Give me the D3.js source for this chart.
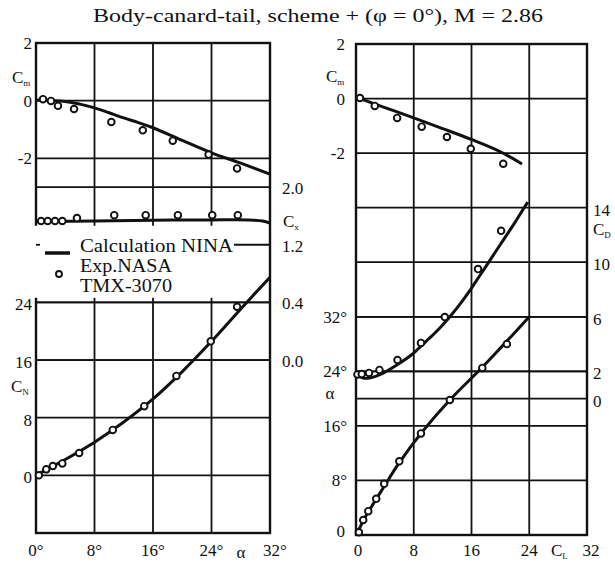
<!DOCTYPE html>
<html>
<head>
<meta charset="utf-8">
<script src="https://cdn.jsdelivr.net/npm/d3@7"></script>
<style>
  body { margin: 0; background: #fff; }
  text { font-family: "Liberation Serif", "Times New Roman", serif; fill: #111; }
</style>
</head>
<body>
<svg id="chart" width="615" height="564"></svg>
<script>
// ---- Left panel: coefficients versus angle of attack ----
const alphaTicks = [0, 8, 16, 24, 32];
const cmLeftTicks = [2, 0, -2];
const cxTickValues = [2.0, 1.2, 0.4, -0.4];
const cxTickLabels = ["2.0", "1.2", "0.4", "0.0"];
const cnTicks = [24, 16, 8, 0];

// [alpha, value]
const cmAlphaCalc = [[0, 0.02], [4, -0.03], [6, -0.12], [8, -0.25], [10, -0.42], [12, -0.6], [14, -0.76], [16, -0.94], [20, -1.38], [24, -1.81], [28, -2.17], [32, -2.55]];
const cmAlphaExp = [[0.96, 0.05], [2.05, -0.01], [3.0, -0.18], [5.2, -0.29], [10.3, -0.74], [14.6, -1.03], [18.7, -1.39], [23.6, -1.87], [27.5, -2.35]];
const cxAlphaCalc = [[0, 1.52], [8, 1.53], [16, 1.54], [24, 1.545], [29, 1.545], [31, 1.53], [32, 1.5]];
const cxAlphaExp = [[0.7, 1.53], [1.6, 1.53], [2.6, 1.53], [3.6, 1.53], [5.6, 1.57], [10.7, 1.61], [15, 1.61], [19.4, 1.61], [24.1, 1.61], [27.6, 1.61]];
const cnAlphaCalc = [[0, 0], [2, 1.1], [4, 2.2], [8, 4.6], [12, 7.4], [16, 10.6], [20, 14.4], [24, 18.6], [28, 23.1], [32, 27.5]];
const cnAlphaExp = [[0.4, 0], [1.4, 0.83], [2.3, 1.3], [3.6, 1.66], [5.9, 3.1], [10.5, 6.3], [14.8, 9.6], [19.2, 13.8], [23.9, 18.6], [27.5, 23.4]];

// ---- Right panel: coefficients versus lift coefficient ----
const clTicks = [0, 8, 16, 24, 32];
const cmRightTicks = [2, 0, -2];
const cdTicks = [14, 10, 6, 2, 0];
const alphaRightTicks = [32, 24, 16, 8, 0];

// [CL, value]
const cmClCalc = [[0, 0.05], [4, -0.33], [8, -0.71], [12, -1.1], [16, -1.5], [20, -1.95], [23, -2.4]];
const cmClExp = [[0.55, 0.02], [2.6, -0.27], [5.7, -0.71], [9.1, -1.03], [12.6, -1.41], [15.9, -1.84], [20.4, -2.39]];
const cdClCalc = [[0, 1.75], [1, 1.5], [2, 1.52], [3.3, 1.75], [5.6, 2.45], [7.8, 3.25], [9, 3.85], [10, 4.35], [11, 4.85], [12, 5.4], [13, 6.0], [14, 6.65], [15, 7.35], [16, 8.1], [17, 8.9], [18, 9.7], [20, 11.3], [22, 12.9], [23.3, 14.0], [23.8, 14.4]];
const cdClExp = [[0.2, 1.77], [0.8, 1.8], [1.8, 1.88], [3.25, 2.1], [5.75, 2.83], [9.0, 4.08], [12.3, 5.98], [16.9, 9.5], [20.1, 12.3]];
const alphaClCalc = [[0, 0], [0.5, 1.0], [1, 2.1], [2, 3.9], [3, 5.6], [4, 7.3], [6, 10.6], [9, 14.9], [13, 19.8], [17.5, 24.6], [20, 27.4], [24, 32]];
const alphaClExp = [[0.4, 0.4], [1.0, 2.2], [1.7, 3.5], [2.8, 5.3], [3.9, 7.5], [6.0, 10.8], [9.0, 14.9], [13.0, 19.8], [17.5, 24.5], [20.9, 28.0]];

const svg = d3.select("#chart");
const FS = 17;

// ---------- scales ----------
const L = { x0: 36, x1: 270, y0: 43, y1: 533 };
const uL = (L.y1 - L.y0) / 8.5;
const xA = d3.scaleLinear([0, 32], [L.x0, L.x1]);
const yCmL = d3.scaleLinear([2, -3], [L.y0, L.y0 + 2.5 * uL]);
const yCx = d3.scaleLinear([2.0, 0.4], [L.y0 + 2.5 * uL, L.y0 + 4.5 * uL]);
const yCN = d3.scaleLinear([0, 24], [L.y0 + 7.5 * uL, L.y0 + 4.5 * uL]);

const R = { x0: 356, x1: 587, y0: 44, y1: 535 };
const uR = (R.y1 - R.y0) / 9;
const xCL = d3.scaleLinear([0, 32], [R.x0, R.x1]);
const yCmR = d3.scaleLinear([2, -4], [R.y0, R.y0 + 3 * uR]);
const yCD = d3.scaleLinear([14, 0], [R.y0 + 3 * uR, R.y0 + 6.5 * uR]);
const yAR = d3.scaleLinear([0, 32], [R.y1, R.y0 + 5 * uR]);

// ---------- helpers ----------
function hline(g, y, x0, x1, w) {
  g.append("line").attr("x1", x0).attr("x2", x1).attr("y1", y).attr("y2", y)
    .attr("stroke", "#111").attr("stroke-width", w || 1.8);
}
function vline(g, x, y0, y1, w) {
  g.append("line").attr("x1", x).attr("x2", x).attr("y1", y0).attr("y2", y1)
    .attr("stroke", "#111").attr("stroke-width", w || 1.8);
}
function label(x, y, txt, anchor, size) {
  return svg.append("text").attr("x", x).attr("y", y).attr("dy", "0.35em")
    .attr("text-anchor", anchor || "middle").attr("font-size", size || FS).text(txt);
}
function subLabel(x, y, main, sub, anchor) {
  const t = svg.append("text").attr("x", x).attr("y", y).attr("dy", "0.35em")
    .attr("text-anchor", anchor || "start").attr("font-size", FS);
  t.append("tspan").text(main);
  t.append("tspan").attr("font-size", 9).attr("dy", "0.3em").text(sub);
  return t;
}
function curve(g, data, sx, sy) {
  g.append("path").datum(data)
    .attr("fill", "none").attr("stroke", "#111").attr("stroke-width", 3)
    .attr("stroke-linejoin", "round").attr("stroke-linecap", "butt")
    .attr("d", d3.line().x(d => sx(d[0])).y(d => sy(d[1])).curve(d3.curveCatmullRom.alpha(0.5)));
}
function dots(g, data, sx, sy) {
  g.selectAll(null).data(data).enter().append("circle")
    .attr("cx", d => sx(d[0])).attr("cy", d => sy(d[1])).attr("r", 3.3)
    .attr("fill", "#fff").attr("stroke", "#111").attr("stroke-width", 1.9);
}

// ---------- left panel grid ----------
const gL = svg.append("g");
alphaTicks.slice(1, -1).forEach(t => vline(gL, xA(t), L.y0, L.y1));
cmLeftTicks.slice(1).forEach(t => hline(gL, yCmL(t), L.x0, L.x1));
cxTickValues.forEach(t => hline(gL, yCx(t), L.x0, L.x1));
cnTicks.forEach(t => hline(gL, yCN(t), L.x0, L.x1));
gL.append("rect").attr("x", L.x0).attr("y", L.y0).attr("width", L.x1 - L.x0).attr("height", L.y1 - L.y0)
  .attr("fill", "none").attr("stroke", "#111").attr("stroke-width", 2.4);

// legend block with white background
const leg = svg.append("g");
leg.append("rect").attr("x", L.x0 - 2).attr("y", yCx(1.2) - 19).attr("width", 234 - L.x0 + 2).attr("height", 72).attr("fill", "#fff");
hline(leg, yCx(1.2), L.x0, L.x0 + 4);
leg.append("line").attr("x1", 45).attr("x2", 70).attr("y1", 253).attr("y2", 253).attr("stroke", "#111").attr("stroke-width", 3.5);
leg.append("circle").attr("cx", 59).attr("cy", 274).attr("r", 3).attr("fill", "#fff").attr("stroke", "#111").attr("stroke-width", 1.9);
[["Calculation NINA", 246, 153], ["Exp.NASA", 266, 92], ["TMX-3070", 286, 92]].forEach(([s, y, w]) => {
  label(80, y, s, "start", 18).attr("textLength", w).attr("lengthAdjust", "spacingAndGlyphs");
});

// left panel curves and points
curve(gL, cmAlphaCalc, xA, yCmL);
curve(gL, cxAlphaCalc, xA, yCx);
curve(gL, cnAlphaCalc, xA, yCN);
dots(gL, cmAlphaExp, xA, yCmL);
dots(gL, cxAlphaExp, xA, yCx);
dots(gL, cnAlphaExp, xA, yCN);

// left panel labels
cmLeftTicks.forEach(t => label(32, yCmL(t), t < 0 ? "-" + Math.abs(t) : String(t), "end"));
subLabel(12, 77, "C", "m");
cnTicks.forEach(t => label(32, yCN(t) + 2, String(t), "end"));
subLabel(11, 386, "C", "N");
cxTickValues.forEach((t, i) => label(282, yCx(t) + 1, cxTickLabels[i], "start"));
subLabel(283, 221, "C", "x");
alphaTicks.forEach(t => label(xA(t) + (t === 32 ? 5 : 0), 550, t + "°"));
label(241, 552, "α");

// ---------- right panel grid ----------
const gR = svg.append("g");
clTicks.slice(1, -1).forEach(t => vline(gR, xCL(t), R.y0, R.y1));
cmRightTicks.slice(1).forEach(t => hline(gR, yCmR(t), R.x0, R.x1));
cdTicks.forEach(t => hline(gR, yCD(t), R.x0, R.x1));
alphaRightTicks.forEach(t => hline(gR, yAR(t), R.x0, R.x1));
gR.append("rect").attr("x", R.x0).attr("y", R.y0).attr("width", R.x1 - R.x0).attr("height", R.y1 - R.y0)
  .attr("fill", "none").attr("stroke", "#111").attr("stroke-width", 2.4);

curve(gR, cmClCalc, xCL, yCmR);
curve(gR, cdClCalc, xCL, yCD);
curve(gR, alphaClCalc, xCL, yAR);
dots(gR, cmClExp, xCL, yCmR);
dots(gR, cdClExp, xCL, yCD);
dots(gR, alphaClExp, xCL, yAR);

// right panel labels
cmRightTicks.forEach(t => label(345, yCmR(t), t < 0 ? "-" + Math.abs(t) : String(t), "end"));
subLabel(326, 76, "C", "m");
alphaRightTicks.forEach(t => label(t === 0 ? 345 : 347, yAR(t) + (t === 0 ? -4 : 0), t === 0 ? "0" : t + "°", "end"));
label(330, 393, "α");
cdTicks.forEach(t => label(593, yCD(t) + 2, String(t), "start"));
subLabel(593, 229, "C", "D");
clTicks.forEach(t => label(xCL(t) + (t === 32 ? 4 : t === 0 ? 2 : 0), 550, String(t)));
subLabel(551, 550, "C", "L");

// title
label(318, 16, "Body-canard-tail, scheme + (φ = 0°), M = 2.86", "middle", 18)
  .attr("textLength", 450).attr("lengthAdjust", "spacingAndGlyphs");
</script>
</body>
</html>
